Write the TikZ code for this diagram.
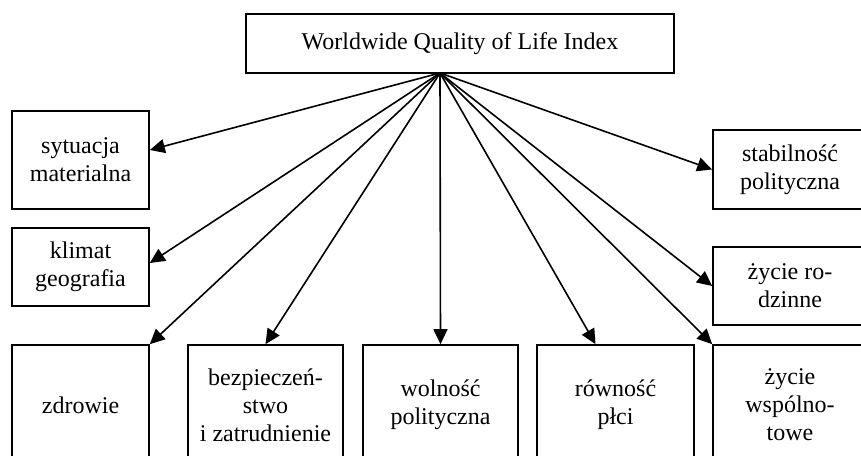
\documentclass[tikz,border=0pt]{standalone}
\usepackage{fontspec}
\setmainfont{Liberation Serif}
\usetikzlibrary{arrows.meta}
\begin{document}
\begin{tikzpicture}[x=0.5pt,y=-0.5pt,
  box/.style={draw,line width=0.8pt,inner sep=0pt,align=center,font=\fontsize{12}{14}\selectfont},
  arr/.style={line width=0.8pt,-{Triangle[length=7.5pt,width=7pt]}}]
  \useasboundingbox (0,0) rectangle (861,455);
  \clip (0,0) rectangle (861,455);
  \def\W{68.5pt}
  \def\H{60pt}
  \node[box,minimum width=214pt,minimum height=29.5pt] (idx) at (460,43.5) {Worldwide Quality of Life Index};
  \coordinate (hub) at (440,73);
  % lewa kolumna
  \node[box,minimum width=\W,minimum height=49pt] (syt) at (80.5,160) {sytuacja\\materialna};
  \node[box,minimum width=\W,minimum height=39pt] (klim) at (80.5,267) {klimat\\geografia};
  % prawa kolumna
  \node[box,minimum width=77pt,minimum height=39.5pt] (stab) at (790,169.5) {stabilność\\polityczna};
  \node[box,minimum width=77pt,minimum height=39pt] (rodz) at (790,286) {życie ro-\\dzinne};
  % dolny rzad
  \node[box,minimum width=\W,minimum height=\H] (zdr) at (80.5,405) {zdrowie};
  \node[box,minimum width=77.5pt,minimum height=\H] (bezp) at (265.5,405) {bezpieczeń-\\stwo\\i zatrudnienie};
  \node[box,minimum width=77.5pt,minimum height=\H] (woln) at (440.5,405) {wolność\\polityczna};
  \node[box,minimum width=78.5pt,minimum height=\H] (rown) at (615.5,405) {równość\\płci};
  \node[box,minimum width=77pt,minimum height=\H] (wsp) at (790,405) {życie\\wspólno-\\towe};

  \draw[arr] (hub) -- ([yshift=5pt]syt.east);
  \draw[arr] (hub) -- ([yshift=2pt]klim.east);
  \draw[arr] (hub) -- (zdr.north east);
  \draw[arr] (hub) -- (bezp.north);
  \draw[arr] (hub) -- (woln.north);
  \draw[arr] (hub) -- ([xshift=-10pt]rown.north);
  \draw[arr] (hub) -- (wsp.north west);
  \draw[arr] (hub) -- (rodz.west);
  \draw[arr] (hub) -- (stab.west);
\end{tikzpicture}
\end{document}
